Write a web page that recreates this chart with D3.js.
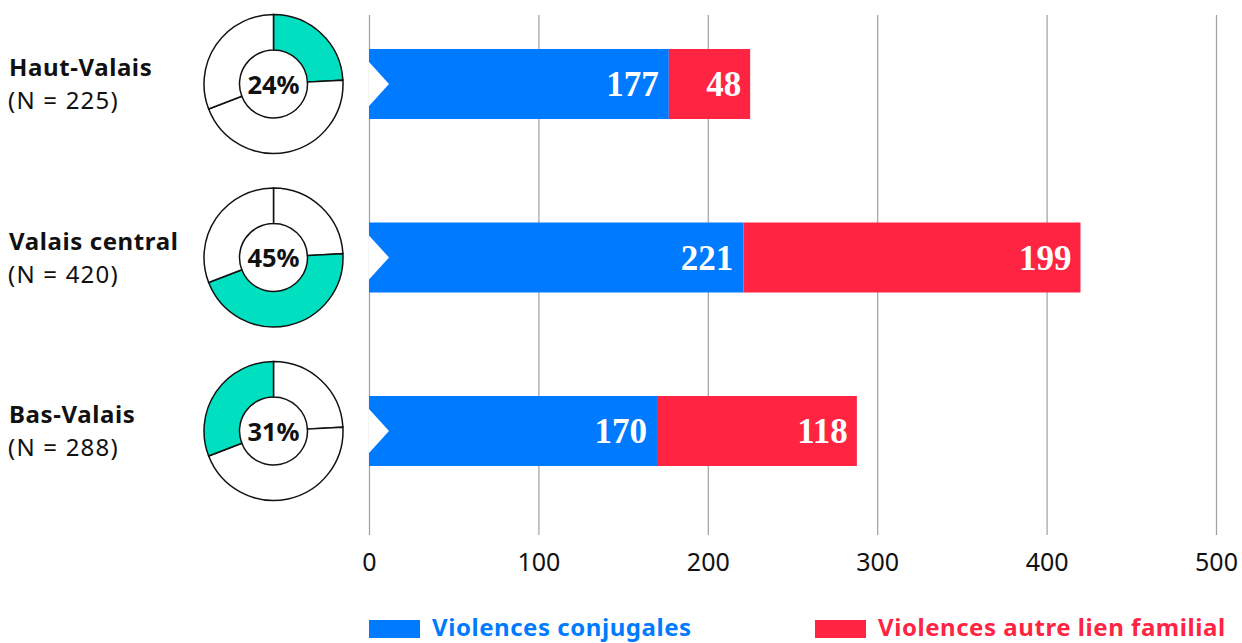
<!DOCTYPE html>
<html><head><meta charset="utf-8">
<script src="https://cdn.jsdelivr.net/npm/d3@7"></script>
<style>body{margin:0;background:#fff}svg{display:block}</style>
</head><body>
<svg id="c" width="1242" height="643"></svg>
<script>
const regions = ["Haut-Valais", "Valais central", "Bas-Valais"];
const totals = [225, 420, 288];
const conjugales = [177, 221, 170];
const autres = [48, 199, 118];
const shares = [24, 45, 31];
const ticks = [0, 100, 200, 300, 400, 500];
const seriesNames = ["Violences conjugales", "Violences autre lien familial"];
const colors = ["#007BFF", "#FF2442"];
const teal = "#00E0C0";

const svg = d3.select("#c");
const sans = "'Noto Sans', Roboto, sans-serif";
const x = d3.scaleLinear().domain([0, 500]).range([369, 1216]);
const y = d3.scalePoint().domain(regions).range([84, 431]);
// grid
const axisG = svg.append("g").attr("transform", "translate(0,15)")
  .call(d3.axisBottom(x).tickValues(ticks).tickSize(520).tickFormat(d3.format("d")));
axisG.select(".domain").remove();
axisG.selectAll(".tick line").attr("stroke", "#a0a0a0").attr("stroke-width", 1.2);
axisG.selectAll(".tick text").attr("dy", 0).attr("y", 556).attr("font-family", sans)
  .attr("font-size", 25).attr("fill", "#111");

const barH = 70;
regions.forEach((r, i) => {
  const cy = y(r);
  const g = svg.append("g");
  g.append("rect").attr("x", x(0)).attr("y", cy - barH/2).attr("width", x(conjugales[i]) - x(0)).attr("height", barH).attr("fill", colors[0]);
  g.append("rect").attr("x", x(conjugales[i])).attr("y", cy - barH/2).attr("width", x(conjugales[i] + autres[i]) - x(conjugales[i])).attr("height", barH).attr("fill", colors[1]);
  // notch
  g.append("path").attr("d", `M${x(0)},${cy-22}L${x(0)+20},${cy}L${x(0)},${cy+22}Z`).attr("fill", "#fff");
  const lbl = {"font-family": "'Liberation Serif', serif", "font-weight": "bold", "font-size": 35, "fill": "#fff", "text-anchor": "end"};
  const t1 = g.append("text").attr("x", x(conjugales[i]) - 10).attr("y", cy + 12).text(conjugales[i]);
  const t2 = g.append("text").attr("x", x(conjugales[i] + autres[i]) - 9).attr("y", cy + 12).text(autres[i]);
  [t1, t2].forEach(t => Object.entries(lbl).forEach(([k, v]) => t.attr(k, v)));

  // labels
  svg.append("text").attr("x", 9).attr("y", cy - 8).attr("font-family", sans).attr("font-weight", "bold")
    .attr("font-size", 24).attr("letter-spacing", 0.6).attr("fill", "#111").text(r);
  svg.append("text").attr("x", 8).attr("y", cy + 25).attr("font-family", sans)
    .attr("font-size", 24).attr("letter-spacing", 1.2).attr("fill", "#111").text(`(N = ${totals[i]})`);

  // donut
  const pie = d3.pie().sort(null).value(d => d)(totals);
  const arc = d3.arc().innerRadius(34).outerRadius(69.5);
  const dg = svg.append("g").attr("transform", `translate(273.5,${cy})`);
  dg.selectAll("path").data(pie).join("path").attr("d", arc)
    .attr("fill", (d, j) => j === i ? teal : "#fff").attr("stroke", "#111").attr("stroke-width", 1.5);
  dg.append("text").attr("text-anchor", "middle").attr("y", 9.5).attr("font-family", sans)
    .attr("font-weight", "bold").attr("font-size", 25.5).attr("fill", "#111").text(shares[i] + "%");
});

// legend
const legX = [369, 815];
seriesNames.forEach((s, i) => {
  svg.append("rect").attr("x", legX[i]).attr("y", 620).attr("width", 51).attr("height", 18).attr("fill", colors[i]);
  svg.append("text").attr("x", legX[i] + 63).attr("y", 636).attr("font-family", sans).attr("font-weight", "bold")
    .attr("font-size", 24).attr("letter-spacing", 0.55).attr("fill", colors[i]).text(s);
});
</script>
</body></html>
